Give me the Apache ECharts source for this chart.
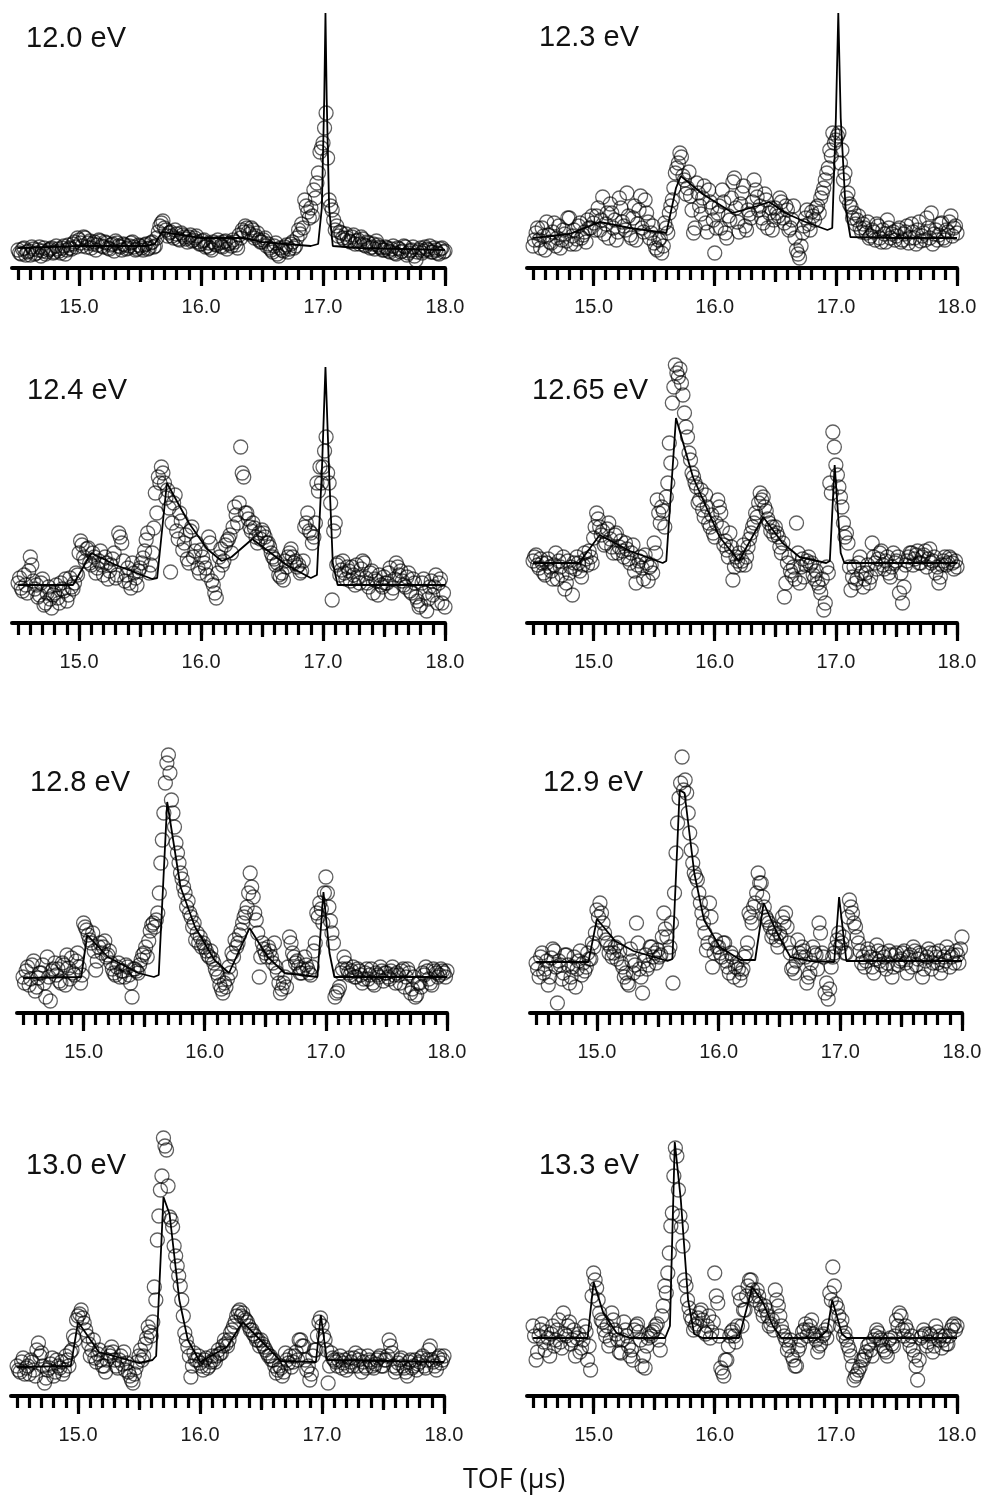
<!DOCTYPE html>
<html><head><meta charset="utf-8">
<script src="https://cdn.jsdelivr.net/npm/echarts@6/dist/echarts.min.js"></script>
<style>html,body{margin:0;padding:0;background:#fff}#c{width:986px;height:1502px}</style>
</head><body><div id="c"></div><script>
// TOF channels (µs): even channels
const tof = [14.5,14.525,14.55,14.575,14.6,14.625,14.65,14.675,14.7,14.725,14.75,14.775,14.8,14.825,14.85,14.875,14.9,14.925,14.95,14.975,
15,15.025,15.05,15.075,15.1,15.125,15.15,15.175,15.2,15.225,15.25,15.275,15.3,15.325,15.35,15.375,15.4,15.425,15.45,15.475,
15.5,15.525,15.55,15.575,15.6,15.625,15.65,15.675,15.7,15.725,15.75,15.775,15.8,15.825,15.85,15.875,15.9,15.925,15.95,15.975,
16,16.025,16.05,16.075,16.1,16.125,16.15,16.175,16.2,16.225,16.25,16.275,16.3,16.325,16.35,16.375,16.4,16.425,16.45,16.475,
16.5,16.525,16.55,16.575,16.6,16.625,16.65,16.675,16.7,16.725,16.75,16.775,16.8,16.825,16.85,16.875,16.9,16.925,16.95,16.975,
17,17.025,17.05,17.075,17.1,17.125,17.15,17.175,17.2,17.225,17.25,17.275,17.3,17.325,17.35,17.375,17.4,17.425,17.45,17.475,
17.5,17.525,17.55,17.575,17.6,17.625,17.65,17.675,17.7,17.725,17.75,17.775,17.8,17.825,17.85,17.875,17.9,17.925,17.95,17.975,18];
// odd channels
const tof2 = [14.5125,14.5375,14.5625,14.5875,14.6125,14.6375,14.6625,14.6875,14.7125,14.7375,14.7625,14.7875,14.8125,14.8375,14.8625,14.8875,14.9125,14.9375,14.9625,14.9875,
15.0125,15.0375,15.0625,15.0875,15.1125,15.1375,15.1625,15.1875,15.2125,15.2375,15.2625,15.2875,15.3125,15.3375,15.3625,15.3875,15.4125,15.4375,15.4625,15.4875,
15.5125,15.5375,15.5625,15.5875,15.6125,15.6375,15.6625,15.6875,15.7125,15.7375,15.7625,15.7875,15.8125,15.8375,15.8625,15.8875,15.9125,15.9375,15.9625,15.9875,
16.0125,16.0375,16.0625,16.0875,16.1125,16.1375,16.1625,16.1875,16.2125,16.2375,16.2625,16.2875,16.3125,16.3375,16.3625,16.3875,16.4125,16.4375,16.4625,16.4875,
16.5125,16.5375,16.5625,16.5875,16.6125,16.6375,16.6625,16.6875,16.7125,16.7375,16.7625,16.7875,16.8125,16.8375,16.8625,16.8875,16.9125,16.9375,16.9625,16.9875,
17.0125,17.0375,17.0625,17.0875,17.1125,17.1375,17.1625,17.1875,17.2125,17.2375,17.2625,17.2875,17.3125,17.3375,17.3625,17.3875,17.4125,17.4375,17.4625,17.4875,
17.5125,17.5375,17.5625,17.5875,17.6125,17.6375,17.6625,17.6875,17.7125,17.7375,17.7625,17.7875,17.8125,17.8375,17.8625,17.8875,17.9125,17.9375,17.9625,17.9875];

const panelLabels = ['12.0 eV','12.3 eV','12.4 eV','12.65 eV','12.8 eV','12.9 eV','13.0 eV','13.3 eV'];
const majorTicks = [15,16,17,18];
const midTicks = [15.5,16.5,17.5];
const minorTicks = [14.5,14.6,14.7,14.8,14.9,15.0,15.1,15.2,15.3,15.4,15.5,15.6,15.7,15.8,15.9,16.0,16.1,16.2,16.3,16.4,16.5,16.6,16.7,16.8,16.9,17.0,17.1,17.2,17.3,17.4,17.5,17.6,17.7,17.8,17.9,18.0];
const xTitle = 'TOF (μs)';

// measured counts (arb. units), even channels
const ev120 = [18,14,20,16,13,19,15,21,17,14,18,20,16,19,15,22,18,20,24,21,
28,22,30,25,20,26,23,27,21,25,19,24,27,22,18,23,20,25,21,19,
22,18,24,20,26,22,36,45,40,32,36,30,34,28,33,29,31,27,30,26,
24,28,22,20,26,23,25,21,27,24,22,26,20,30,36,40,34,38,32,28,
26,30,24,18,22,14,20,17,23,19,26,22,38,44,68,56,60,78,85,116,
125,155,68,58,38,32,35,28,30,26,33,27,24,29,22,25,21,19,23,20,
18,20,16,22,14,19,17,21,15,18,12,16,20,17,19,22,16,18,14,20,17];
const ev123 = [22,35,28,40,18,33,25,45,30,20,38,27,50,32,24,42,30,36,48,40,
45,52,38,71,44,30,55,48,36,60,42,75,33,50,28,58,40,68,46,35,
25,18,30,22,40,55,68,95,105,111,88,80,72,35,85,62,70,45,78,60,
15,55,40,66,30,48,86,60,36,75,42,58,50,88,71,62,45,68,55,38,
60,52,66,45,58,40,62,18,10,35,50,44,56,48,62,70,80,95,118,135,
128,135,118,95,75,61,55,48,40,44,35,30,38,28,42,26,34,48,30,36,
32,40,28,36,25,44,30,38,27,35,50,30,24,38,33,45,28,36,52,40,35];
const ev124 = [40,35,48,30,66,42,38,28,44,20,36,15,30,25,40,32,22,45,34,50,
70,78,62,75,58,66,55,72,48,60,52,64,45,90,80,42,55,35,50,38,
55,65,83,50,70,130,146,156,140,133,51,120,92,110,73,88,60,96,72,55,
73,60,48,80,38,25,66,58,78,84,70,116,100,176,146,110,96,100,86,90,
93,86,80,70,64,60,46,43,56,70,66,62,58,52,96,110,90,86,140,156,
156,186,140,23,100,60,53,50,56,42,48,58,40,62,45,36,52,44,28,38,
46,40,55,35,60,48,42,36,50,30,40,22,18,44,12,36,28,48,40,20,16];
const ev1265 = [62,68,55,60,48,64,52,58,44,56,66,40,50,28,54,60,46,70,58,66,
85,110,96,92,80,100,76,88,70,82,66,74,60,78,40,62,55,68,42,58,
80,123,100,112,126,180,220,258,246,240,210,186,163,146,136,123,113,128,100,108,
86,123,110,78,73,90,43,66,70,62,58,76,90,100,106,130,126,112,100,96,
96,86,70,26,60,52,56,100,40,64,58,66,60,44,40,30,13,56,140,191,
158,136,116,86,80,33,56,44,66,36,50,40,80,60,64,72,54,66,46,70,
62,30,20,58,66,70,64,72,60,68,56,74,62,50,40,58,66,60,64,54,56];
const ev128 = [36,42,28,48,22,35,40,30,56,12,44,38,32,50,28,45,55,38,60,30,
90,83,73,80,43,66,60,72,58,50,40,46,36,42,48,38,16,44,40,53,
60,56,82,90,93,120,173,230,258,213,186,160,140,126,106,100,86,73,70,66,
66,58,62,50,40,28,20,26,46,60,73,70,83,96,106,140,116,93,36,70,
60,66,56,70,40,20,30,26,76,60,50,46,40,56,44,38,62,100,110,90,
136,106,80,16,22,40,56,44,38,46,36,42,30,40,34,44,28,38,46,32,
40,34,46,30,38,42,26,44,20,36,18,30,40,46,34,28,42,36,44,40,42];
const ev129 = [50,36,60,44,28,55,62,10,48,40,58,30,46,26,52,38,42,60,54,66,
103,110,90,73,60,56,66,70,50,36,30,64,40,90,44,20,58,48,66,60,
63,58,100,76,66,30,160,215,256,233,200,163,140,133,110,90,63,110,46,73,
66,56,70,46,60,36,50,33,44,60,100,90,110,140,130,106,93,86,80,73,
80,96,100,70,44,40,73,56,62,30,40,66,58,90,60,20,14,46,60,73,
66,76,60,113,100,86,70,50,46,64,56,40,68,52,60,44,62,36,58,48,
54,62,40,58,66,48,60,36,52,64,44,60,50,40,56,66,46,58,62,50,76];
const ev130 = [30,24,38,28,22,34,20,53,43,13,26,32,20,36,28,22,40,30,46,56,
80,86,73,60,40,56,34,46,30,24,43,49,36,28,40,44,33,20,13,28,
40,36,52,69,60,109,156,206,258,246,179,169,140,120,96,63,49,19,43,36,
33,26,38,30,40,34,46,43,56,50,63,70,80,86,83,76,70,66,60,56,
56,49,43,40,36,23,30,20,43,33,29,40,36,56,50,26,16,40,46,74,
70,56,13,43,36,30,40,33,26,38,30,43,36,24,30,40,34,28,36,40,
30,36,56,43,24,33,38,28,20,36,30,26,34,40,28,46,36,30,38,33,40];
const ev133 = [70,36,60,72,46,58,62,50,66,54,83,60,74,56,40,62,48,70,36,26,
123,108,83,74,60,50,83,66,56,43,74,60,40,36,70,64,30,28,58,60,
66,72,46,90,103,143,183,248,206,169,116,96,80,66,72,83,76,62,80,64,
123,93,28,20,36,60,66,54,103,70,86,110,116,100,106,92,80,86,70,76,
106,90,70,60,46,56,36,30,50,64,72,66,76,60,44,52,62,58,103,129,
92,80,76,63,50,40,16,22,29,36,44,52,40,60,63,56,46,40,58,50,
76,83,66,70,56,60,40,16,58,66,50,62,44,70,56,48,60,52,66,72,70];

// measured counts, odd channels
const od120 = [15,19,13,17,21,14,18,12,20,16,19,15,22,17,20,14,23,19,26,30,
25,31,21,27,24,18,28,22,26,20,23,17,25,21,24,19,22,26,18,23,
20,23,19,25,21,30,42,47,38,35,32,38,29,35,31,26,33,28,32,24,
27,21,25,18,24,28,22,26,19,25,28,23,33,38,42,36,40,30,35,26,
28,22,20,16,25,12,18,21,16,24,20,30,34,40,62,50,52,70,95,120,
140,110,62,48,42,36,30,34,27,31,24,28,31,23,26,20,24,27,21,18,
21,17,19,15,20,16,22,13,17,21,8,18,15,21,18,16,20,15,19,16];
const od123 = [28,40,20,32,46,26,36,22,42,28,34,50,24,38,29,45,33,26,40,52,
38,60,48,34,55,64,40,28,70,46,38,52,30,62,44,72,36,55,30,42,
20,28,15,45,35,62,80,100,115,92,74,96,58,40,75,54,82,36,66,48,
40,62,78,35,52,70,90,46,64,82,38,54,66,78,58,50,74,40,60,48,
55,70,50,62,38,48,30,14,22,42,58,38,52,60,55,75,88,100,112,125,
132,105,88,70,64,50,44,52,36,40,46,32,36,44,30,38,26,40,34,28,
38,26,34,42,30,36,24,46,32,28,40,55,34,28,44,30,38,46,32,42];
const od124 = [45,32,38,52,58,34,26,40,18,30,24,28,38,20,34,44,28,36,40,48,
82,66,74,60,70,50,62,58,66,44,58,70,48,86,62,48,40,60,45,52,
60,72,90,58,95,110,140,150,125,115,100,128,84,102,80,64,92,66,80,50,
66,55,86,42,30,50,74,62,82,88,96,108,120,150,110,104,92,95,80,84,
90,80,76,66,58,48,50,62,66,74,60,56,50,62,100,92,80,100,132,140,
172,150,120,92,58,48,62,44,52,56,38,46,54,60,40,50,30,42,48,36,
40,50,30,44,56,52,38,46,32,44,26,16,40,30,24,42,36,20,44,30];
const od1265 = [66,58,64,50,60,56,44,70,62,48,34,62,56,60,66,52,58,64,72,60,
96,104,88,78,94,84,70,90,76,72,80,64,70,52,58,66,44,60,56,50,
70,110,116,96,140,160,236,250,254,228,196,170,150,140,120,133,106,116,96,90,
100,116,95,82,66,76,56,62,58,78,66,84,96,110,120,123,116,104,92,88,
90,76,80,40,66,48,44,70,56,46,62,58,48,52,36,44,20,50,130,176,
148,126,100,90,56,46,40,60,50,44,58,46,66,54,70,58,62,50,56,60,
66,50,36,62,70,58,68,60,66,72,64,60,66,56,46,62,58,66,60,62];
const od128 = [30,46,34,52,26,40,48,16,36,42,50,44,30,48,58,34,40,52,46,38,
86,78,70,62,52,70,66,56,62,44,38,50,42,36,46,30,44,42,48,58,
66,72,88,86,100,150,200,250,240,200,170,150,134,120,112,96,90,80,76,70,
62,56,54,44,36,24,30,34,40,56,66,78,90,100,120,126,100,80,56,64,
56,62,50,46,30,24,36,46,70,56,52,40,44,48,40,46,70,96,104,120,
120,92,70,20,26,44,50,40,42,36,44,38,34,44,38,30,40,36,42,40,
36,42,38,40,30,44,36,40,24,16,30,26,38,42,30,44,40,38,42,36];
const od129 = [44,56,40,52,36,64,46,52,34,58,48,36,56,44,62,50,46,54,70,80,
96,100,80,70,66,60,54,62,46,40,28,52,48,70,36,52,44,66,56,50,
56,76,84,60,90,120,190,230,223,220,180,150,136,120,100,80,70,96,60,66,
60,70,52,40,56,46,44,40,56,70,96,106,120,130,116,96,90,76,84,66,
76,90,86,60,46,52,60,66,56,36,50,60,44,80,56,30,24,56,66,80,
70,60,96,106,90,76,62,56,52,60,46,54,62,48,56,50,58,46,60,52,
60,50,56,46,62,54,58,44,56,60,50,56,62,48,52,60,56,50,58,64];
const od130 = [26,34,22,30,36,26,46,40,30,18,28,38,24,30,34,26,36,44,60,76,
82,78,66,52,46,38,42,36,30,36,40,44,30,36,32,26,24,16,22,34,
46,40,58,64,74,96,180,220,250,210,176,150,130,110,80,56,40,30,36,40,
30,36,28,34,36,40,42,50,52,56,66,74,84,80,78,74,66,62,56,50,
52,46,40,36,30,26,28,24,36,40,34,44,56,50,36,30,22,46,60,78,
60,46,30,38,34,36,28,36,30,34,38,30,40,34,28,36,30,32,38,30,
36,40,50,30,28,36,30,24,34,28,36,32,38,30,36,50,34,26,40,36];
const od133 = [60,44,66,54,64,40,70,56,76,48,62,70,52,66,58,44,56,64,50,100,
116,96,76,66,70,56,76,62,44,56,66,50,46,66,72,56,40,50,62,64,
70,56,80,110,123,170,220,240,180,150,110,88,76,70,78,86,64,70,58,74,
100,60,24,36,50,64,60,70,96,86,100,116,106,96,100,86,90,80,72,66,
96,80,64,56,50,40,30,46,56,66,60,70,62,56,50,60,66,70,96,110,
88,70,60,56,46,30,20,26,36,40,50,46,56,66,58,50,44,56,52,60,
70,80,60,66,50,46,30,36,60,62,54,60,50,64,60,56,52,60,70,66];

// fitted curves
const fit120x = [14.5,15.0,15.55,15.62,15.68,16.0,16.35,16.5,16.9,16.96,16.99,17.01,17.02,17.03,17.05,17.08,17.3,18.0];
const fit120y = [20,22,22,24,36,30,30,26,22,24,60,170,255,170,60,22,20,18];
const fit123x = [14.5,14.8,15.05,15.3,15.6,15.68,15.72,15.9,16.15,16.35,16.45,16.6,16.75,16.93,16.97,17.0,17.02,17.04,17.08,17.12,17.5,18.0];
const fit123y = [30,34,46,40,35,80,92,74,55,62,66,54,46,38,40,150,255,150,60,31,30,30];
const fit124x = [14.5,14.95,15.1,15.3,15.6,15.64,15.72,15.9,16.05,16.17,16.25,16.42,16.55,16.7,16.9,16.95,16.99,17.02,17.05,17.08,17.12,18.0];
const fit124y = [38,38,70,58,44,45,140,100,74,62,66,84,72,58,45,48,150,256,150,60,38,38];
const fit1265x = [14.5,14.88,15.05,15.3,15.57,15.6,15.68,15.82,15.93,16.04,16.2,16.4,16.56,16.7,16.92,16.95,16.99,17.04,17.07,18.0];
const fit1265y = [60,60,88,72,60,62,205,146,116,86,62,106,80,66,60,62,158,70,60,60];
const fit128x = [14.5,14.98,15.03,15.2,15.45,15.58,15.62,15.69,15.8,15.92,16.08,16.2,16.37,16.52,16.66,16.93,16.98,17.03,17.07,18.0];
const fit128y = [35,36,78,56,40,36,38,211,126,86,53,40,85,56,40,36,121,60,36,36];
const fit129x = [14.5,14.93,15.0,15.15,15.3,15.58,15.62,15.68,15.72,15.8,15.88,16.01,16.18,16.3,16.37,16.48,16.59,16.75,16.95,16.99,17.05,18.0];
const fit129y = [51,51,94,72,62,52,54,223,220,140,93,66,53,53,110,80,56,52,51,116,52,52];
const fit130x = [14.5,14.94,15.0,15.17,15.5,15.61,15.64,15.7,15.75,15.83,15.9,16.0,16.22,16.35,16.55,16.66,16.95,16.99,17.04,18.0];
const fit130y = [29,30,74,44,33,36,40,199,182,96,56,34,49,74,49,35,34,81,36,34];
const fit133x = [14.5,14.95,15.0,15.08,15.19,15.3,15.59,15.63,15.67,15.72,15.78,15.83,15.9,16.2,16.31,16.4,16.48,16.55,16.86,16.93,16.97,17.05,17.09,18.0];
const fit133y = [58,58,114,83,63,58,58,70,254,196,96,62,58,58,109,93,70,58,58,66,96,62,58,58];

const evenSets = [ev120, ev123, ev124, ev1265, ev128, ev129, ev130, ev133];
const oddSets = [od120, od123, od124, od1265, od128, od129, od130, od133];
const fitXs = [fit120x, fit123x, fit124x, fit1265x, fit128x, fit129x, fit130x, fit133x];
const fitYs = [fit120y, fit123y, fit124y, fit1265y, fit128y, fit129y, fit130y, fit133y];

const layout = [
  {left:12, width:433, top:8,    lab:[26,24]},
  {left:527,width:430, top:8,    lab:[539,23]},
  {left:12, width:433, top:363,  lab:[27,376]},
  {left:527,width:430, top:363,  lab:[532,376]},
  {left:17, width:430, top:753,  lab:[30,768]},
  {left:530,width:432, top:753,  lab:[543,768]},
  {left:11, width:433, top:1136, lab:[26,1151]},
  {left:527,width:430, top:1136, lab:[539,1151]}
];
const PH = 260;
const XMIN = 14.45, XMAX = 18.0;
const FONT = 'Liberation Sans, Arial, sans-serif';

const grid = [], xAxis = [], yAxis = [], series = [], title = [];
const pointStyle = {color:'rgba(0,0,0,0)', borderColor:'rgba(0,0,0,0.78)', borderWidth:1.3};
layout.forEach((L, i) => {
  grid.push({left:L.left, width:L.width, top:L.top, height:PH, containLabel:false});
  const base = {type:'value', gridIndex:i, min:XMIN, max:XMAX, position:'bottom', splitLine:{show:false}};
  xAxis.push(Object.assign({}, base, {
    axisLine:{show:false}, axisLabel:{show:false},
    axisTick:{show:true, customValues:minorTicks, length:12, lineStyle:{color:'#000', width:3.2}}
  }));
  xAxis.push(Object.assign({}, base, {
    axisLine:{show:false}, axisLabel:{show:false},
    axisTick:{show:true, customValues:midTicks, length:14, lineStyle:{color:'#000', width:3.2}}
  }));
  xAxis.push(Object.assign({}, base, {
    axisLine:{show:true, lineStyle:{color:'#000', width:4}},
    axisTick:{show:true, customValues:majorTicks, length:18, lineStyle:{color:'#000', width:3.2}},
    axisLabel:{show:true, customValues:majorTicks, margin:29, color:'#1a1a1a', fontSize:20,
      fontFamily:FONT, formatter:v => v.toFixed(1)}
  }));
  yAxis.push({type:'value', gridIndex:i, min:0, max:PH, show:false});
  const ys = evenSets[i], ys2 = oddSets[i];
  series.push({
    type:'scatter', xAxisIndex:i*3+2, yAxisIndex:i, z:2,
    data: tof.map((t,k) => [t, ys[k]]),
    symbol:'circle', symbolSize:14, itemStyle:pointStyle, silent:true, animation:false
  });
  series.push({
    type:'scatter', xAxisIndex:i*3+2, yAxisIndex:i, z:2,
    data: tof2.map((t,k) => [t, ys2[k]]),
    symbol:'circle', symbolSize:14, itemStyle:pointStyle, silent:true, animation:false
  });
  series.push({
    type:'line', xAxisIndex:i*3+2, yAxisIndex:i, z:3,
    data: fitXs[i].map((x,k) => [x, fitYs[i][k]]),
    showSymbol:false, symbol:'none', lineStyle:{color:'#000', width:1.8},
    silent:true, animation:false
  });
  title.push({text:panelLabels[i], left:L.lab[0], top:L.lab[1], padding:0,
    textStyle:{fontSize:29, fontWeight:'normal', color:'#111', fontFamily:FONT}});
});
title.push({text:xTitle, left:463, top:1467, padding:0,
  textStyle:{fontSize:27, fontWeight:'normal', color:'#111', fontFamily:'Open Sans, sans-serif'}});

const chart = echarts.init(document.getElementById('c'), null, {renderer:'canvas'});
chart.setOption({backgroundColor:'#fff', animation:false, title, grid, xAxis, yAxis, series});
</script></body></html>
